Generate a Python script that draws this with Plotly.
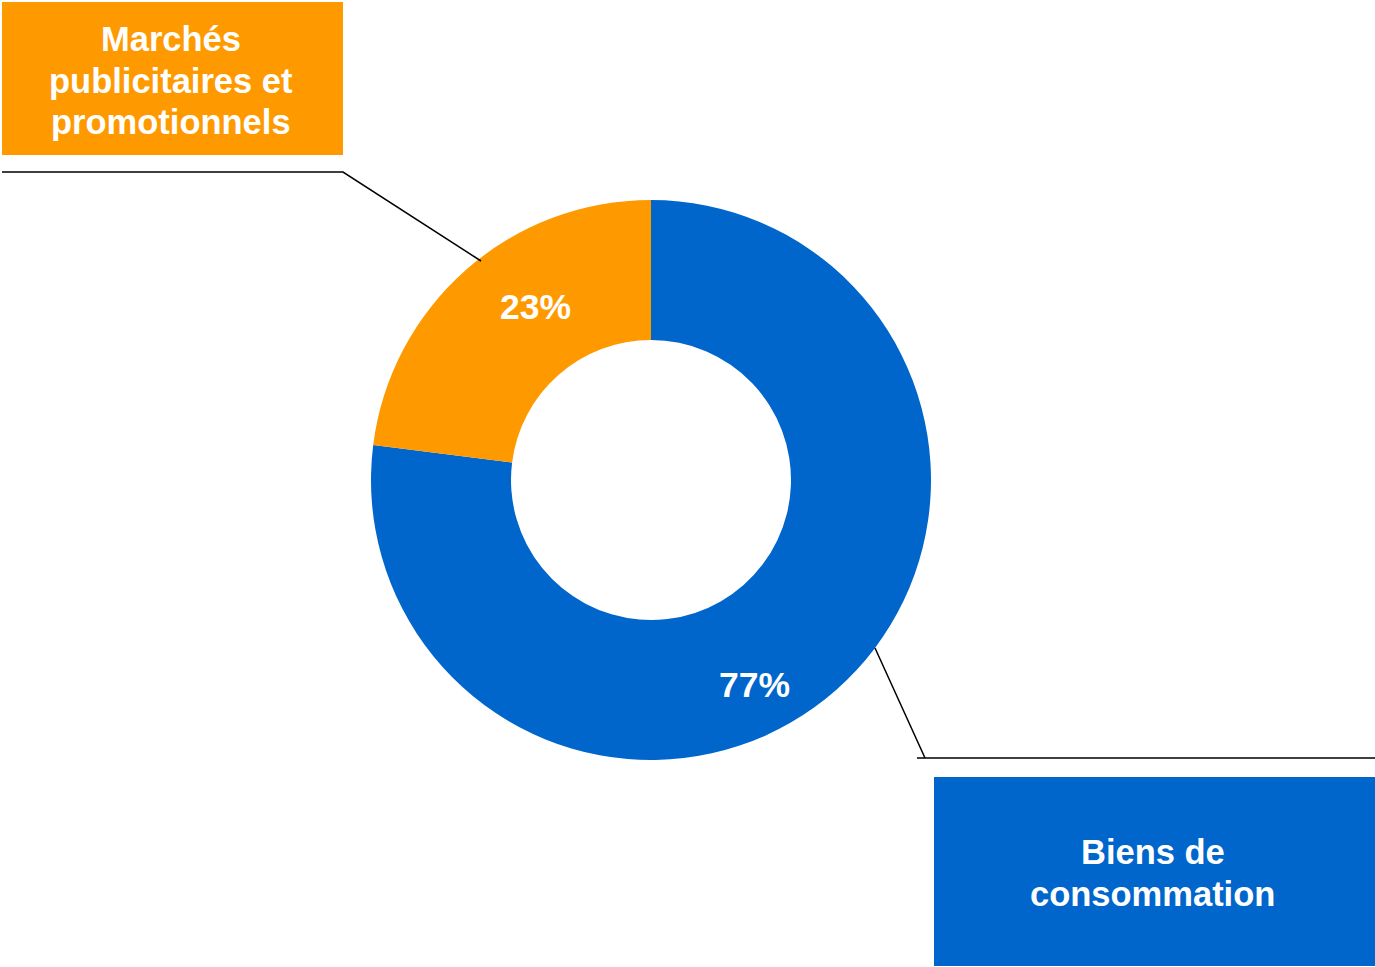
import plotly.graph_objects as go

categories = ["Biens de consommation", "Marchés publicitaires et promotionnels"]
box_lines = [["Biens de", "consommation"], ["Marchés", "publicitaires et", "promotionnels"]]
values = [77, 23]
colors = ["#0066CC", "#FF9900"]

W, H = 1375, 967
cx, cy, R = 651, 480, 280

fig = go.Figure()
fig.add_trace(go.Pie(
    labels=categories, values=values, hole=0.5, sort=False,
    direction="clockwise", rotation=0,
    marker=dict(colors=colors, line=dict(width=0)),
    textinfo="none", hoverinfo="label+percent", showlegend=False,
    domain=dict(x=[(cx - R) / W, (cx + R) / W], y=[(H - cy - R) / H, (H - cy + R) / H]),
))

total = sum(values)
pct = [f"{round(v / total * 100)}%" for v in values]

def px(x):
    return x / W

def py(y):
    return 1 - y / H

pct_font = dict(family="Liberation Sans, Arial, sans-serif", size=35.5, color="white")
box_font = dict(family="Liberation Sans, Arial, sans-serif", size=34.5, color="white")

# percentage labels
pct_pos = [(754, 685), (535, 307)]
for t, (x, y) in zip(pct, pct_pos):
    fig.add_annotation(x=px(x), y=py(y), xref="paper", yref="paper", text=f"<b>{t}</b>",
                       showarrow=False, font=pct_font, xanchor="center", yanchor="middle")

# label boxes
boxes = [(934, 777, 1375, 966), (2, 2, 343, 155)]
line_y = [[852, 894], [39, 81, 122]]
for (x0, y0, x1, y1), lines, ys, col in zip(boxes, box_lines, line_y, colors):
    fig.add_shape(type="rect", xref="paper", yref="paper", x0=px(x0), x1=px(x1), y0=py(y0), y1=py(y1),
                  fillcolor=col, line=dict(width=0), layer="below")
    for t, y in zip(lines, ys):
        fig.add_annotation(x=px((x0 + x1) / 2 - 2), y=py(y), xref="paper", yref="paper",
                           text=f"<b>{t}</b>", showarrow=False, font=box_font,
                           xanchor="center", yanchor="middle", align="center")

# leader lines
paths = [
    [(875, 648), (925, 758), (917, 758), (1375, 758)],
    [(481, 261), (343, 172), (2, 172)],
]
for pts in paths:
    d = "M " + " L ".join(f"{px(x)},{py(y)}" for x, y in pts)
    fig.add_shape(type="path", xref="paper", yref="paper", path=d, line=dict(color="black", width=1.5))

fig.update_layout(width=W, height=H, margin=dict(l=0, r=0, t=0, b=0),
                  paper_bgcolor="white", plot_bgcolor="white")
fig.write_html("out.html")
